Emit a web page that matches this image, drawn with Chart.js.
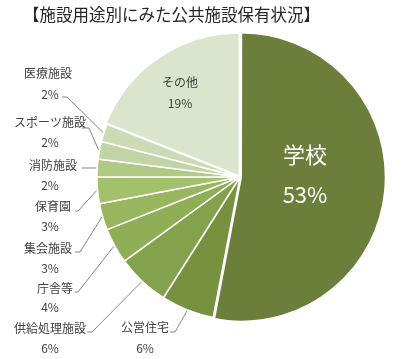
<!DOCTYPE html>
<html>
<head>
<meta charset="utf-8">
<script src="https://cdn.jsdelivr.net/npm/chart.js@4"></script>
<style>
  html, body { margin: 0; padding: 0; background: #fff; }
  #wrap { position: relative; width: 401px; height: 359px; }
</style>
</head>
<body>
<div id="wrap"><canvas id="pie" width="401" height="359"></canvas></div>
<script>
// データ
const categories = ["学校", "公営住宅", "供給処理施設", "庁舎等", "集会施設", "保育園", "消防施設", "スポーツ施設", "医療施設", "その他"];
const shares = [53, 6, 6, 4, 3, 3, 2, 2, 2, 19];
const sliceColors = ["#6b7f3b", "#77913f", "#84a24b", "#8fae55", "#98b65d", "#a3c16b", "#b0ca86", "#c2d4a6", "#ccdab6", "#dbe5cd"];

const FONT = '"Noto Sans CJK JP", "Noto Sans", sans-serif';

// ラベルの配置 (名前の中心, %の中心, 引き出し線の折れ点)
const outsideLabels = {
    1: { name: [145, 327], pct: [145, 348], elbow: [170, 175, 332] },
    2: { name: [50, 328], pct: [50, 348], elbow: [87, 92, 332] },
    3: { name: [55, 288], pct: [50, 307], elbow: [75, 78, 292] },
    4: { name: [48, 248], pct: [50, 268], elbow: [75, 80, 252] },
    5: { name: [53, 206], pct: [50, 226], elbow: [75, 78, 211] },
    6: { name: [53, 165], pct: [50, 185], elbow: [82, 92, 168] },
    7: { name: [50, 122], pct: [50, 142], elbow: [82, 89, 128] },
    8: { name: [48, 73], pct: [50, 94], elbow: [62, 67, 97] }
};
const insideLabels = {
    0: { name: [305, 155], pct: [305, 195], size: 22, color: "#ffffff" },
    9: { name: [180, 82], pct: [180, 103], size: 12, color: "#404040" }
};

const labelPlugin = {
    id: "pieLabels",
    afterDraw(chart) {
        const ctx = chart.ctx;
        const arcs = chart.getDatasetMeta(0).data;
        ctx.save();
        ctx.textBaseline = "middle";

        // タイトル
        ctx.fillStyle = "#262626";
        ctx.font = "16.5px " + FONT;
        ctx.textAlign = "left";
        ctx.fillText("【施設用途別にみた公共施設保有状況】", 23, 15);
        ctx.textAlign = "center";

        Object.keys(outsideLabels).forEach(k => {
            const i = Number(k);
            const lb = outsideLabels[i];
            const arc = arcs[i];
            const mid = (arc.startAngle + arc.endAngle) / 2;
            const r = arc.outerRadius + 1;
            const sx = arc.x + Math.cos(mid) * r;
            const sy = arc.y + Math.sin(mid) * r;

            ctx.strokeStyle = "#666666";
            ctx.lineWidth = 0.8;
            ctx.beginPath();
            ctx.moveTo(lb.elbow[0], lb.elbow[2]);
            ctx.lineTo(lb.elbow[1], lb.elbow[2]);
            ctx.lineTo(sx, sy);
            ctx.stroke();

            ctx.fillStyle = "#404040";
            ctx.font = "12px " + FONT;
            ctx.fillText(categories[i], lb.name[0], lb.name[1]);
            ctx.fillText(shares[i] + "%", lb.pct[0], lb.pct[1]);
        });

        Object.keys(insideLabels).forEach(k => {
            const i = Number(k);
            const lb = insideLabels[i];
            ctx.fillStyle = lb.color;
            ctx.font = lb.size + "px " + FONT;
            ctx.fillText(categories[i], lb.name[0], lb.name[1]);
            ctx.fillText(shares[i] + "%", lb.pct[0], lb.pct[1]);
        });
        ctx.restore();
    }
};

new Chart(document.getElementById("pie").getContext("2d"), {
    type: "pie",
    data: {
        labels: categories,
        datasets: [{
            data: shares,
            backgroundColor: sliceColors,
            borderColor: "#ffffff",
            borderWidth: 1.5,
            offset: [5, 0, 0, 0, 0, 0, 0, 0, 0, 5]
        }]
    },
    options: {
        responsive: false,
        animation: false,
        radius: 143,
        layout: { padding: { left: 79, right: 0, top: 0, bottom: 5 } },
        plugins: {
            legend: { display: false },
            tooltip: { enabled: false }
        }
    },
    plugins: [labelPlugin]
});
</script>
</body>
</html>
